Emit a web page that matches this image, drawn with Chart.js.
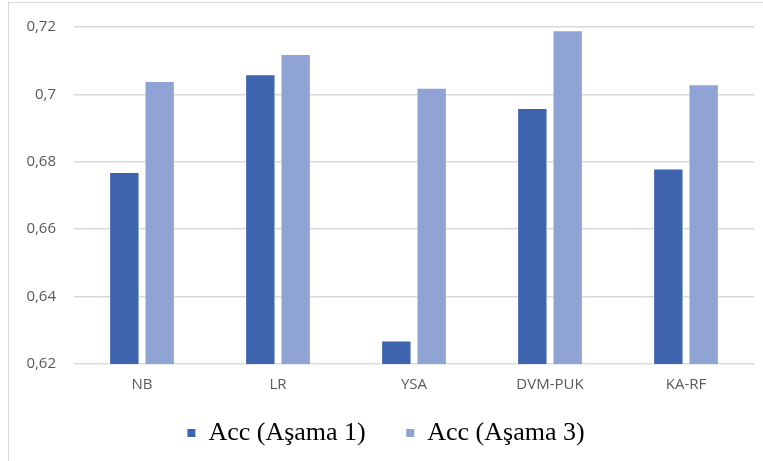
<!DOCTYPE html>
<html>
<head>
<meta charset="utf-8">
<script src="https://cdn.jsdelivr.net/npm/chart.js@4"></script>
<style>
  html, body { margin: 0; padding: 0; background: #fff; }
  #wrap { position: relative; width: 763px; height: 461px; overflow: hidden; }
  #frame { position: absolute; left: 8px; top: 2px; width: 800px; height: 500px;
           border-top: 1px solid #d9d9d9; border-left: 1px solid #d9d9d9; pointer-events: none; }
  canvas { display: block; }
</style>
</head>
<body>
<div id="wrap">
  <canvas id="c" width="763" height="461"></canvas>
  <div id="frame"></div>
</div>
<script>
// Accuracy per model
const categories = ['NB', 'LR', 'YSA', 'DVM-PUK', 'KA-RF'];
const accStage1 = [0.677, 0.706, 0.627, 0.696, 0.678];
const accStage3 = [0.704, 0.712, 0.702, 0.719, 0.703];
const yTickLabels = ['0,62', '0,64', '0,66', '0,68', '0,7', '0,72'];

const tickFont = { family: 'Open Sans', size: 15 };

new Chart(document.getElementById('c'), {
  type: 'bar',
  data: {
    labels: categories,
    datasets: [
      {
        label: 'Acc (Aşama 1)',
        data: accStage1,
        backgroundColor: '#3d64ad',
        borderColor: 'rgba(255,255,255,0.45)',
        borderWidth: 1,
        barPercentage: 0.86,
        categoryPercentage: 0.52
      },
      {
        label: 'Acc (Aşama 3)',
        data: accStage3,
        backgroundColor: '#8fa4d4',
        borderColor: 'rgba(255,255,255,0.45)',
        borderWidth: 1,
        barPercentage: 0.86,
        categoryPercentage: 0.52
      }
    ]
  },
  options: {
    responsive: false,
    animation: false,
    layout: { padding: { top: 25, right: 9, left: 18, bottom: 5 } },
    scales: {
      x: {
        grid: { display: false },
        border: { display: false },
        ticks: { color: '#595959', font: tickFont, padding: 4 },
        afterFit: s => { s.height = 48; }
      },
      y: {
        min: 0.62,
        max: 0.72,
        ticks: {
          stepSize: 0.02,
          color: '#595959',
          font: tickFont,
          padding: 18,
          callback: (v, i) => yTickLabels[i]
        },
        grid: { color: '#d9d9d9', lineWidth: 1.5, drawTicks: false },
        border: { display: false },
        afterFit: s => { s.width = 56; }
      }
    },
    plugins: {
      tooltip: { enabled: false },
      legend: {
        position: 'bottom',
        labels: {
          color: '#000',
          font: { family: 'Liberation Serif', size: 26 },
          boxWidth: 8,
          boxHeight: 8,
          padding: 8,
          generateLabels: chart => {
            const items = Chart.defaults.plugins.legend.labels.generateLabels(chart);
            items.forEach((it, i) => {
              it.lineWidth = 0;
              if (i === 0) it.text = it.text + '     ';
            });
            return items;
          }
        }
      }
    }
  }
});
</script>
</body>
</html>
